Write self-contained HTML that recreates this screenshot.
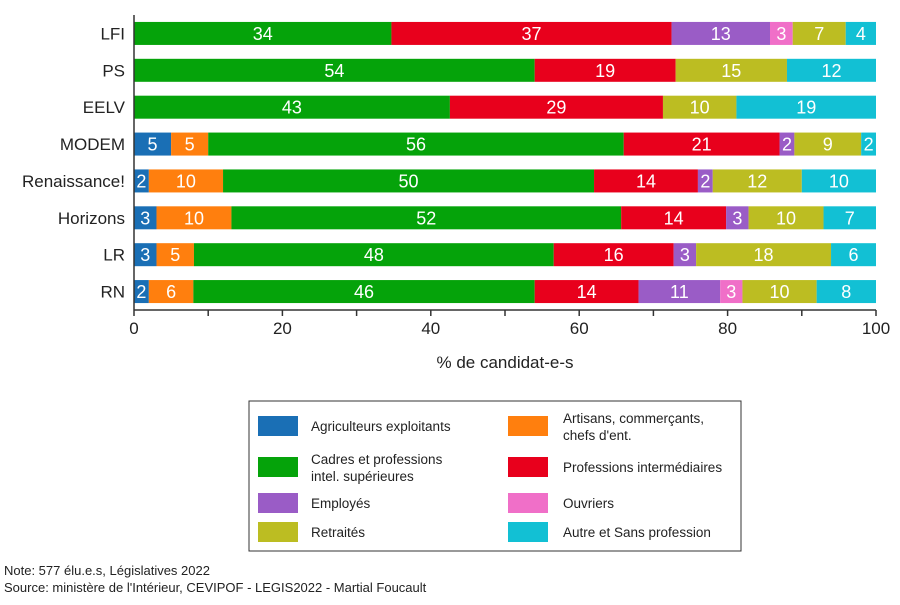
<!DOCTYPE html>
<html><head><meta charset="utf-8">
<style>
body{margin:0;background:#fff;width:900px;height:600px;overflow:hidden;font-family:"Liberation Sans",sans-serif}
</style></head>
<body>
<svg id="chart" width="900" height="600" xmlns="http://www.w3.org/2000/svg" font-family="Liberation Sans, sans-serif">
<g id="bars"></g>
<g id="axes"></g>
<g>
<rect x="249" y="401" width="492" height="150" fill="#fff" stroke="#333" stroke-width="1"/>
<rect x="258" y="416" width="40" height="20" fill="#1a6fb5"/>
<text x="311" y="431" font-size="13.5" fill="#222">Agriculteurs exploitants</text>
<rect x="508" y="416" width="40" height="20" fill="#ff7f0e"/>
<text x="563" y="423" font-size="13.5" fill="#222">Artisans, commerçants,</text>
<text x="563" y="440" font-size="13.5" fill="#222">chefs d'ent.</text>
<rect x="258" y="457" width="40" height="20" fill="#05a30a"/>
<text x="311" y="464" font-size="13.5" fill="#222">Cadres et professions</text>
<text x="311" y="481" font-size="13.5" fill="#222">intel. supérieures</text>
<rect x="508" y="457" width="40" height="20" fill="#e8001c"/>
<text x="563" y="472" font-size="13.5" fill="#222">Professions intermédiaires</text>
<rect x="258" y="493" width="40" height="20" fill="#9a5cc6"/>
<text x="311" y="508" font-size="13.5" fill="#222">Employés</text>
<rect x="508" y="493" width="40" height="20" fill="#f06fc8"/>
<text x="563" y="508" font-size="13.5" fill="#222">Ouvriers</text>
<rect x="258" y="522" width="40" height="20" fill="#bcbd22"/>
<text x="311" y="537" font-size="13.5" fill="#222">Retraités</text>
<rect x="508" y="522" width="40" height="20" fill="#12c0d4"/>
<text x="563" y="537" font-size="13.5" fill="#222">Autre et Sans profession</text>
</g>
<text x="505" y="368" text-anchor="middle" font-size="17" fill="#222">% de candidat-e-s</text>
<text x="4" y="575" font-size="13" fill="#222">Note: 577 élu.e.s, Législatives 2022</text>
<text x="4" y="592" font-size="13" fill="#222">Source: ministère de l'Intérieur, CEVIPOF - LEGIS2022 - Martial Foucault</text>
</svg>
<script>
const categories=["LFI","PS","EELV","MODEM","Renaissance!","Horizons","LR","RN"];
const agriculteurs=[0,0,0,5,2,3,3,2];
const artisans=[0,0,0,5,10,10,5,6];
const cadres=[34,54,43,56,50,52,48,46];
const intermediaires=[37,19,29,21,14,14,16,14];
const employes=[13,0,0,2,2,3,3,11];
const ouvriers=[3,0,0,0,0,0,0,3];
const retraites=[7,15,10,9,12,10,18,10];
const autre=[4,12,19,2,10,7,6,8];
const xTicks=[0,20,40,60,80,100];
const series=[agriculteurs,artisans,cadres,intermediaires,employes,ouvriers,retraites,autre];
const seriesNames=["agriculteurs","artisans","cadres","intermediaires","employes","ouvriers","retraites","autre"];
const colors=["#1a6fb5","#ff7f0e","#05a30a","#e8001c","#9a5cc6","#f06fc8","#bcbd22","#12c0d4"];
const NS="http://www.w3.org/2000/svg";
const X0=134,X1=876,Y0=15,Y1=310;
function xScale(v){return X0+(X1-X0)*v/100;}
function yCenter(i){return Y0+(Y1-Y0)*(i+0.5)/categories.length;}
const barH=23;
const bars=document.getElementById('bars');
categories.forEach((c,i)=>{
  let total=0;series.forEach(s=>total+=s[i]);
  let acc=0;
  const yc=yCenter(i);
  series.forEach((s,k)=>{
    const v=s[i];if(!v)return;
    const x=xScale(acc/total*100),w=xScale((acc+v)/total*100)-x;
    const r=document.createElementNS(NS,'rect');
    
    
    r.setAttribute('x',x);r.setAttribute('y',yc-barH/2);r.setAttribute('width',w);r.setAttribute('height',barH);r.setAttribute('fill',colors[k]);
    bars.appendChild(r);
    const t=document.createElementNS(NS,'text');
    
    
    t.setAttribute('x',x+w/2);t.setAttribute('y',yc+6.5);t.setAttribute('text-anchor','middle');t.setAttribute('font-size','18');t.setAttribute('fill','#fff');
    t.textContent=v;bars.appendChild(t);
    acc+=v;
  });
  const l=document.createElementNS(NS,'text');
  
  
  l.setAttribute('x',125);l.setAttribute('y',yc+6);l.setAttribute('text-anchor','end');l.setAttribute('font-size','17');l.setAttribute('fill','#222');
  l.textContent=c;bars.appendChild(l);
});
const axes=document.getElementById('axes');
function line(x1,y1,x2,y2,name){const e=document.createElementNS(NS,'line');


e.setAttribute('x1',x1);e.setAttribute('y1',y1);e.setAttribute('x2',x2);e.setAttribute('y2',y2);e.setAttribute('stroke','#333');e.setAttribute('stroke-width','1.5');axes.appendChild(e);}
line(X0,Y0,X0,Y1,'y-axis-line');
line(X0,Y1,X1,Y1,'x-axis-line');
for(let v=0;v<=100;v+=10){line(xScale(v),Y1,xScale(v),Y1+6,'x-tick');}
xTicks.forEach(v=>{const t=document.createElementNS(NS,'text');


t.setAttribute('x',xScale(v));t.setAttribute('y',334);t.setAttribute('text-anchor','middle');t.setAttribute('font-size','17');t.setAttribute('fill','#222');t.textContent=v;axes.appendChild(t);});
</script>
</body></html>
